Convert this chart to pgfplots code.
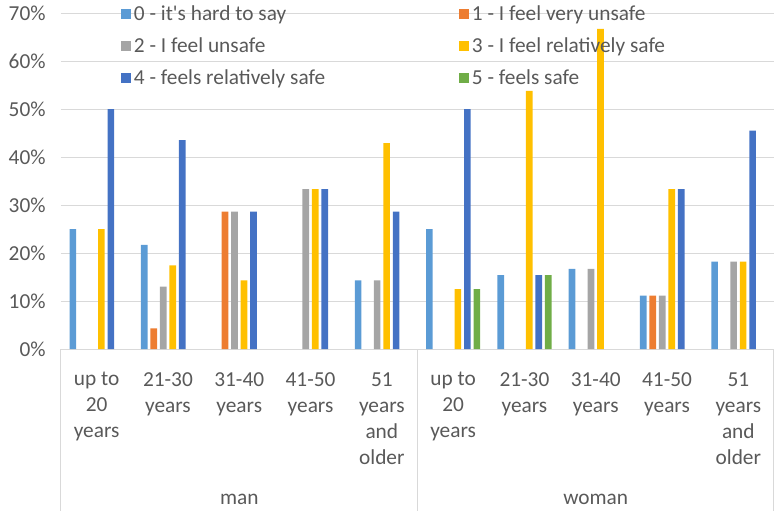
\documentclass[border=0pt]{standalone}
\usepackage{fontspec}
\setmainfont{Carlito}[Ligatures=TeXOff]
\usepackage{pgfplots}
\pgfplotsset{compat=1.18}
\definecolor{cA}{HTML}{5B9BD5}
\definecolor{cB}{HTML}{ED7D31}
\definecolor{cC}{HTML}{A5A5A5}
\definecolor{cD}{HTML}{FFC000}
\definecolor{cE}{HTML}{4472C4}
\definecolor{cF}{HTML}{70AD47}
\definecolor{txt}{HTML}{595959}
\definecolor{grd}{HTML}{D9D9D9}
\newcommand{\lf}{\fontsize{16}{19.5}\selectfont}
\begin{document}
\begin{tikzpicture}
\path[use as bounding box] (-45.75pt,-121.5pt) rectangle (535.5pt,261.75pt);
\begin{axis}[
  scale only axis,
  width=534.75pt, height=252pt,
  ybar=2.125pt, bar width=5pt,
  xmin=-0.5, xmax=9.5,
  ymin=0, ymax=70,
  ytick={0,10,...,70},
  yticklabel={\pgfmathprintnumber{\tick}\%},
  /pgf/number format/assume math mode=true,
  xtick={0,...,9},
  xticklabels={{up to\\20\\years},{21-30\\years},{31-40\\years},{41-50\\years},{51\\years\\and\\older},
               {up to\\20\\years},{21-30\\years},{31-40\\years},{41-50\\years},{51\\years\\and\\older}},
  xticklabel style={align=center, font=\lf, text=txt, anchor=north, yshift=-14pt},
  yticklabel style={font=\lf, text=txt, anchor=east, xshift=-8pt},
  major tick length=0pt,
  axis line style={draw=none},
  ymajorgrids, grid style={grd, line width=0.75pt},
  clip=false,
  legend columns=2,
  legend style={draw=none, fill=none, font=\lf, text=txt,
    at={(axis description cs:0,1)}, anchor=north west, xshift=42pt, yshift=10pt,
    row sep=7.5pt, cells={anchor=west}},
  legend image code/.code={\fill[#1] (0pt,-3.75pt) rectangle (7.5pt,3.75pt);},
]
\addplot[fill=cA, draw=none] coordinates {(0,25) (1,21.7) (4,14.3) (5,25) (6,15.4) (7,16.7) (8,11.1) (9,18.2)};
\addplot[fill=cB, draw=none] coordinates {(1,4.3) (2,28.6) (8,11.1)};
\addplot[fill=cC, draw=none] coordinates {(1,13) (2,28.6) (3,33.3) (4,14.3) (7,16.7) (8,11.1) (9,18.2)};
\addplot[fill=cD, draw=none] coordinates {(0,25) (1,17.4) (2,14.3) (3,33.3) (4,42.9) (5,12.5) (6,53.8) (7,66.7) (8,33.3) (9,18.2)};
\addplot[fill=cE, draw=none] coordinates {(0,50) (1,43.5) (2,28.6) (3,33.3) (4,28.6) (5,50) (6,15.4) (8,33.3) (9,45.5)};
\addplot[fill=cF, draw=none] coordinates {(5,12.5) (6,15.4)};
\addlegendentry{\makebox[242pt][l]{0 - it's hard to say}}
\addlegendentry{1 - I feel very unsafe}
\addlegendentry{\makebox[242pt][l]{2 - I feel unsafe}}
\addlegendentry{3 - I feel relatively safe}
\addlegendentry{\makebox[242pt][l]{4 - feels relatively safe}}
\addlegendentry{5 - feels safe}
\draw[grd, line width=0.75pt] (axis cs:-0.5,0) -- ++(0pt,-121.5pt);
\draw[grd, line width=0.75pt] (axis cs:4.5,0) -- ++(0pt,-121.5pt);
\draw[grd, line width=0.75pt] (axis cs:9.5,0) -- ++(0pt,-121.5pt);
\node[font=\lf, text=txt] at (axis cs:2,0) [yshift=-113pt] {man};
\node[font=\lf, text=txt] at (axis cs:7,0) [yshift=-113pt] {woman};
\end{axis}
\end{tikzpicture}
\end{document}
